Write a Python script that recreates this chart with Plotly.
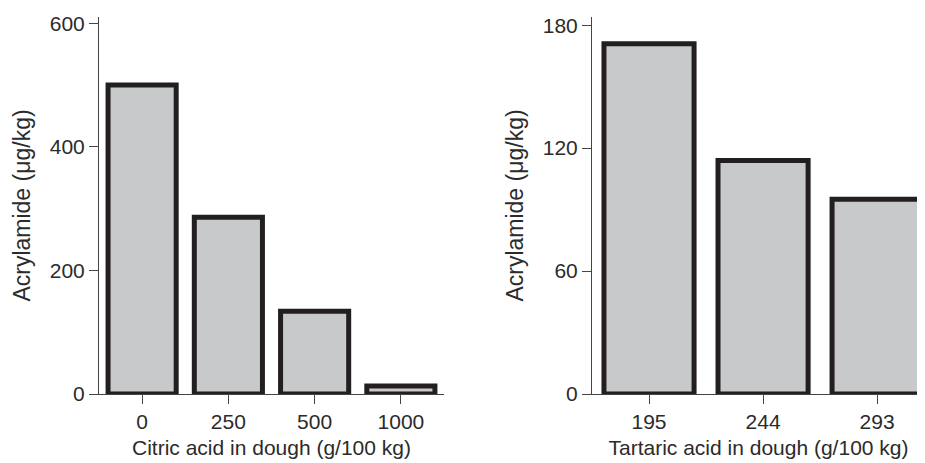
import plotly.graph_objects as go

citric_levels = ["0", "250", "500", "1000"]
citric_acrylamide = [500, 286, 134, 13]

tartaric_levels = ["195", "244", "293"]
tartaric_acrylamide = [171, 114, 95]

y_title = "Acrylamide (μg/kg)"
x_title_left = "Citric acid in dough (g/100 kg)"
x_title_right = "Tartaric acid in dough (g/100 kg)"

left_ticks = [0, 200, 400, 600]
right_ticks = [0, 60, 120, 180]

fill = "#c8c9cb"
edge = "#231f20"
txt = "#2b2b2b"
font = "Liberation Sans, Arial, Helvetica, sans-serif"

fig = go.Figure()
fig.add_trace(go.Bar(x=citric_levels, y=citric_acrylamide, width=0.79,
                     marker=dict(color=fill, line=dict(color=edge, width=5)),
                     xaxis="x", yaxis="y", showlegend=False))
fig.add_trace(go.Bar(x=tartaric_levels, y=tartaric_acrylamide, width=0.79,
                     marker=dict(color=fill, line=dict(color=edge, width=5)),
                     xaxis="x2", yaxis="y2", showlegend=False))

# page body has an 8px margin, so the figure is sized to fit inside the window
W, H = 917, 455
ax_common = dict(showgrid=False, zeroline=False, showline=True, linecolor="#444444",
                 linewidth=1, ticks="outside", ticklen=9, tickwidth=1, tickcolor="#444444",
                 tickfont=dict(family=font, size=21, color=txt))

fig.update_layout(
    width=W, height=H,
    margin=dict(l=0, r=0, t=9, b=69),
    paper_bgcolor="white", plot_bgcolor="white",
    xaxis=dict(domain=[91 / W, 436 / W], type="category", range=[-0.5, 3.5],
               title=dict(text=x_title_left, font=dict(family=font, size=21, color=txt), standoff=8),
               **ax_common),
    yaxis=dict(domain=[0, 1], range=[0, 610], tickvals=left_ticks, anchor="x",
               title=dict(text=y_title, font=dict(family=font, size=23, color=txt), standoff=12),
               **ax_common),
    xaxis2=dict(domain=[584 / W, 1.0], type="category", range=[-0.5, 2.42], anchor="y2",
                title=dict(text=x_title_right, font=dict(family=font, size=21, color=txt), standoff=8),
                **ax_common),
    yaxis2=dict(domain=[0, 1], range=[0, 184], tickvals=right_ticks, anchor="x2",
                title=dict(text=y_title, font=dict(family=font, size=23, color=txt), standoff=12),
                **ax_common),
)

fig.write_html("out.html", post_script="document.body.style.overflow='hidden';")
